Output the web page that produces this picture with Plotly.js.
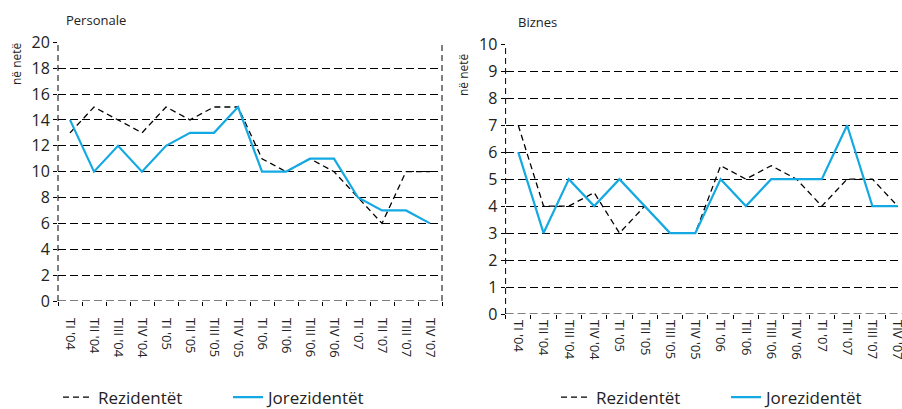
<!DOCTYPE html>
<html>
<head>
<meta charset="utf-8">
<script src="https://cdn.plot.ly/plotly-3.0.1.min.js"></script>
<style>html,body{margin:0;padding:0;background:#fff;} #chart{width:902px;height:409px;}</style>
</head>
<body>
<div id="chart"></div>
<script>
const categories = ["TI '04","TII '04","TIII '04","TIV '04","TI '05","TII '05","TIII '05","TIV '05","TI '06","TII '06","TIII '06","TIV '06","TI '07","TII '07","TIII '07","TIV '07"];
const personaleRezidentet = [13,15,14,13,15,14,15,15,11,10,11,10,8,6,10,10];
const personaleJorezidentet = [14,10,12,10,12,13,13,15,10,10,11,11,8,7,7,6];
const biznesRezidentet = [7,4,4,4.5,3,4,3,3,5.5,5,5.5,5,4,5,5,4];
const biznesJorezidentet = [6,3,5,4,5,4,3,3,5,4,5,5,5,7,4,4];
const seriesNames = ["Rezidentët","Jorezidentët"];
const panelTitles = ["Personale","Biznes"];
const yTitle = "në netë";

const FONT = "Open Sans, sans-serif";
const TXT = "#222";
const BLUE = "#14A9E3";

const traces = [
  {x: categories, y: personaleRezidentet, name: seriesNames[0], type: "scatter", mode: "lines",
   line: {color: "#000", width: 1.3, dash: "6px,4px"}, xaxis: "x", yaxis: "y", legend: "legend"},
  {x: categories, y: personaleJorezidentet, name: seriesNames[1], type: "scatter", mode: "lines",
   line: {color: BLUE, width: 2.2}, xaxis: "x", yaxis: "y", legend: "legend"},
  {x: categories, y: biznesRezidentet, name: seriesNames[0], type: "scatter", mode: "lines",
   line: {color: "#000", width: 1.3, dash: "6px,4px"}, xaxis: "x2", yaxis: "y2", legend: "legend2"},
  {x: categories, y: biznesJorezidentet, name: seriesNames[1], type: "scatter", mode: "lines",
   line: {color: BLUE, width: 2.2}, xaxis: "x2", yaxis: "y2", legend: "legend2"}
];

const xCommon = {
  type: "category", tickangle: 90, ticks: "outside", ticklen: 4, tickcolor: "#000",
  tickson: "boundaries", showgrid: false, zeroline: false, showline: false,
  tickfont: {family: FONT, size: 13, color: TXT}, fixedrange: true
};
const yCommon = {
  showgrid: true, gridcolor: "#000", gridwidth: 1, griddash: "8px,4px",
  zeroline: false, showline: false, ticks: "outside", ticklen: 4, tickcolor: "#000",
  tickfont: {family: FONT, size: 16, color: TXT}, fixedrange: true
};

const dashV = (xref, yref, xpos) => ({type: "line", xref: xref, yref: yref, x0: xpos, x1: xpos, y0: 0, y1: 1,
  line: {color: "#000", width: 1, dash: "6px,4px"}});
const dashH = (xref, yref) => ({type: "line", xref: xref, yref: yref, x0: 0, x1: 1, y0: 0, y1: 0,
  line: {color: "#000", width: 1, dash: "8px,4px"}});

const legendCommon = {orientation: "h", y: 0.028, yanchor: "middle", xanchor: "left",
  font: {family: FONT, size: 17, color: TXT}, itemwidth: 30, entrywidth: 125, bgcolor: "rgba(0,0,0,0)"};

const layout = {
  width: 902, height: 409,
  margin: {l: 0, r: 0, t: 0, b: 0, autoexpand: false},
  paper_bgcolor: "#fff", plot_bgcolor: "#fff",
  showlegend: true,
  xaxis: Object.assign({}, xCommon, {domain: [58/902, 442/902], anchor: "y", range: [-0.5, 15.5], ticklabelstandoff: 16}),
  yaxis: Object.assign({}, yCommon, {domain: [(409-301)/409, (409-42.3)/409], anchor: "x", range: [0, 20], dtick: 2}),
  xaxis2: Object.assign({}, xCommon, {domain: [505.6/902, 1], anchor: "y2", range: [-0.5, 15.17], ticklabelstandoff: 5}),
  yaxis2: Object.assign({}, yCommon, {domain: [(409-314)/409, (409-44.3)/409], anchor: "x2", range: [0, 10], dtick: 1}),
  legend: Object.assign({}, legendCommon, {x: 58/902}),
  legend2: Object.assign({}, legendCommon, {x: 556/902}),
  shapes: [
    dashV("x domain", "y domain", 0),
    dashV("x domain", "y domain", 1),
    dashV("x2 domain", "y2 domain", 0),
    dashH("x domain", "y"),
    dashH("x2 domain", "y2")
  ],
  annotations: [
    {text: panelTitles[0], xref: "paper", yref: "paper", x: 64/902, y: (409-20)/409, xanchor: "left", yanchor: "middle",
     showarrow: false, font: {family: FONT, size: 13, color: TXT}},
    {text: panelTitles[1], xref: "paper", yref: "paper", x: 516/902, y: (409-22)/409, xanchor: "left", yanchor: "middle",
     showarrow: false, font: {family: FONT, size: 13, color: TXT}},
    {text: yTitle, xref: "paper", yref: "paper", x: 16/902, y: (409-64)/409, xanchor: "center", yanchor: "middle",
     textangle: -90, showarrow: false, font: {family: FONT, size: 12, color: TXT}},
    {text: yTitle, xref: "paper", yref: "paper", x: 463/902, y: (409-75)/409, xanchor: "center", yanchor: "middle",
     textangle: -90, showarrow: false, font: {family: FONT, size: 12, color: TXT}}
  ]
};

Plotly.newPlot("chart", traces, layout, {staticPlot: true, displayModeBar: false});
</script>
</body>
</html>
